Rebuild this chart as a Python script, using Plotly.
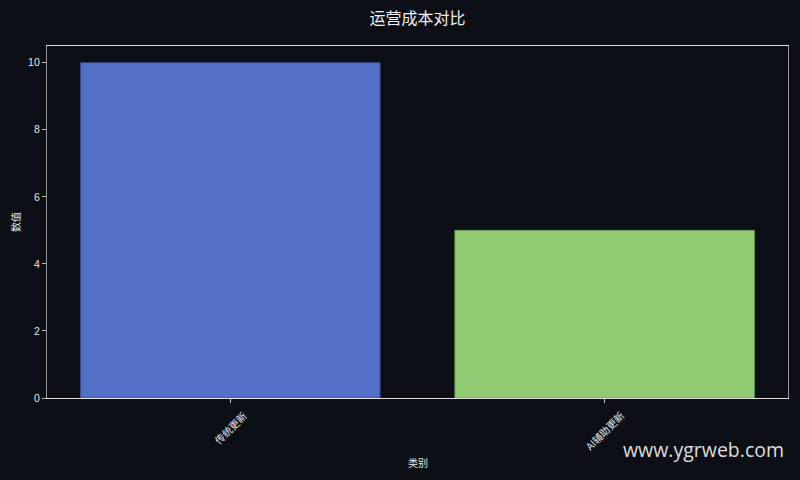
import plotly.graph_objects as go

# data
categories = ["传统更新", "AI辅助更新"]
values = [10, 5]
bar_colors = ["#5470c6", "#91cc75"]
edge_colors = ["#3d4f8c", "#6f9c5a"]
y_ticks = [0, 2, 4, 6, 8, 10]

bg = "#0c0f16"
font_cjk = "Noto Sans CJK SC, DejaVu Sans, sans-serif"
font_num = "Liberation Sans, Arial, sans-serif"

fig = go.Figure()

fig.add_trace(go.Bar(
    x=list(range(len(categories))),
    y=values,
    width=0.8,
    marker=dict(color=bar_colors, line=dict(color=edge_colors, width=1)),
    hoverinfo="skip",
))

fig.update_layout(
    width=800, height=480,
    paper_bgcolor=bg, plot_bgcolor=bg,
    margin=dict(l=47, r=12, t=46, b=82),
    showlegend=False,
    font=dict(family=font_cjk, color="#e6e6e6", size=10),
    title=dict(text="运营成本对比", xref="paper", x=0.5, xanchor="center",
               y=0.962, yanchor="middle",
               font=dict(size=16, color="#f0f0f0", family=font_cjk)),
)

fig.update_xaxes(
    range=[-0.49, 1.49],
    tickvals=list(range(len(categories))),
    showticklabels=False,
    ticks="outside", ticklen=4, tickcolor="#cccccc",
    showgrid=False, zeroline=False, automargin=False,
    showline=True, linecolor="#e0e0e0", linewidth=1, mirror=True,
)

fig.update_yaxes(
    range=[0, 10.5],
    tickvals=y_ticks,
    ticks="outside", ticklen=4, tickcolor="#bbbbbb",
    showgrid=False, zeroline=False, automargin=False,
    showline=True, linecolor="#9a9a9a", linewidth=1.2, mirror=True,
    tickfont=dict(size=10.5, color="#e6e6e6", family=font_num),
)

# category labels rotated 45 degrees and centred under each tick
for i, name in enumerate(categories):
    fig.add_annotation(
        text=name, x=i, xref="x", y=0, yref="paper",
        xanchor="center", yanchor="top", yshift=-7,
        textangle=-45, showarrow=False,
        font=dict(size=10, color="#e6e6e6", family=font_cjk),
    )

fig.add_annotation(
    text="类别", xref="paper", yref="paper", x=0.5, y=0,
    xanchor="center", yanchor="middle", yshift=-64,
    showarrow=False, font=dict(size=10, color="#e6e6e6", family=font_cjk),
)

fig.add_annotation(
    text="数值", xref="paper", yref="paper", x=0, y=0.5,
    xanchor="center", yanchor="middle", xshift=-32,
    textangle=-90, showarrow=False,
    font=dict(size=10, color="#e6e6e6", family=font_cjk),
)

fig.add_annotation(
    text="www.ygrweb.com", xref="paper", yref="paper",
    x=0.997, y=-0.145, xanchor="right", yanchor="middle",
    showarrow=False,
    font=dict(size=19.5, color="#dddddd", family="Open Sans, Noto Sans, sans-serif"),
)

# drop the default page margin so the figure sits at 0,0
fig.write_html(
    "out.html",
    config={"displayModeBar": False},
    post_script="document.body.style.margin='0';document.body.style.background='" + bg + "';",
)
